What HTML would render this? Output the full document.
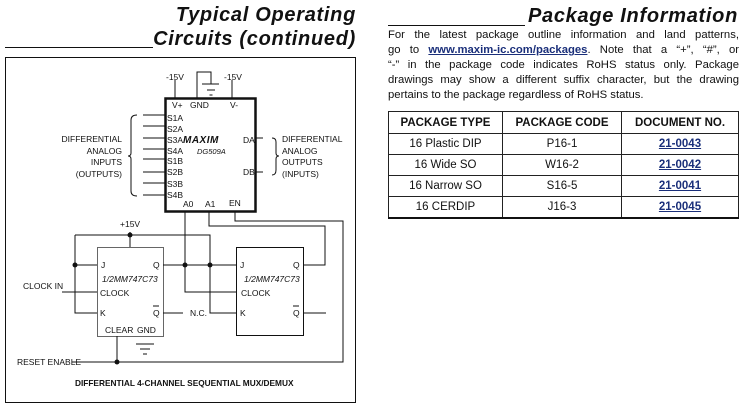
<!DOCTYPE html>
<html><head><meta charset="utf-8"><style>
html,body{margin:0;padding:0;background:#fff;}
body{width:750px;height:408px;position:relative;overflow:hidden;font-family:"Liberation Sans",sans-serif;}
.h{position:absolute;font-weight:bold;font-style:italic;font-size:20px;letter-spacing:0.7px;color:#111;white-space:nowrap;}
.p{position:absolute;left:388px;width:351px;font-size:11.3px;line-height:15px;color:#111;text-align:justify;text-align-last:justify;white-space:nowrap;}
.p a{color:#1a2f7a;font-weight:bold;text-decoration:underline;}
table{position:absolute;left:388px;top:111px;width:351px;border-collapse:collapse;font-size:11.5px;color:#111;}
td,th{border:1px solid #222;text-align:center;height:20px;padding:0;}
th{font-weight:bold;height:21px;}
tr:last-child td{border-bottom:2px solid #111;}
td a{color:#1a2f7a;font-weight:bold;text-decoration:underline;}
</style></head><body>
<div class="h" style="right:394px;top:4px;">Typical Operating</div>
<div class="h" style="right:394px;top:28px;">Circuits (continued)</div>
<div style="position:absolute;left:5px;top:47px;width:148px;height:1px;background:#111"></div>
<div class="h" style="right:12px;top:5px;">Package Information</div>
<div style="position:absolute;left:388px;top:25px;width:137px;height:1px;background:#111"></div>
<div class="p" style="top:28px;">For the latest package outline information and land patterns,</div>
<div class="p" style="top:43px;">go to <a>www.maxim-ic.com/packages</a>. Note that a “+”, “#”, or</div>
<div class="p" style="top:58px;">“-” in the package code indicates RoHS status only. Package</div>
<div class="p" style="top:73px;">drawings may show a different suffix character, but the drawing</div>
<div class="p" style="top:88px;text-align-last:left;">pertains to the package regardless of RoHS status.</div>
<table>
<tr><th style="width:113px">PACKAGE TYPE</th><th style="width:118px">PACKAGE CODE</th><th>DOCUMENT NO.</th></tr>
<tr><td>16 Plastic DIP</td><td>P16-1</td><td><a>21-0043</a></td></tr>
<tr><td>16 Wide SO</td><td>W16-2</td><td><a>21-0042</a></td></tr>
<tr><td>16 Narrow SO</td><td>S16-5</td><td><a>21-0041</a></td></tr>
<tr><td>16 CERDIP</td><td>J16-3</td><td><a>21-0045</a></td></tr>
</table>
<svg width="750" height="408" style="position:absolute;left:0;top:0" font-family="Liberation Sans, sans-serif" font-size="8.5" fill="#111">
<g stroke="#111" fill="none" stroke-width="1">
<rect x="5.5" y="57.5" width="350" height="345"/>
<rect x="165.5" y="98.5" width="90" height="113" stroke-width="2.5"/>
<path d="M175 80V98M232 80V98M197 98V72H211V84M202 84H219M207 90H215M209.5 95H212.5"/>
<path d="M143 115H165M143 126H165M143 138H165M143 149H165M143 159H165M143 172H165M143 183H165M143 195H165"/>
<path d="M137 115Q131 115 131 120V153Q131 156 128 156Q131 156 131 159V191Q131 196 137 196"/>
<path d="M255 138H263M255 172H263M272 138Q276 138 276 142V153Q276 156 279 156Q276 156 276 159V170Q276 175 272 175"/>
<rect x="97.5" y="247.5" width="66" height="89" stroke="#666"/>
<rect x="236.5" y="247.5" width="67" height="88"/>
<path d="M185 211V292H236M209 211V226H325V265H303M235 211V221H343V362H72"/>
<path d="M130 232V247M75 235H210V313H236M75 235V313H97M75 265H97M62 292H97M163 265H236M163 313H183M303 313H326M117 336V362"/>
<path d="M136 344H154M140 349H150M143 354H147"/>
</g>
<g fill="#111">
<circle cx="130" cy="235" r="2.5"/><circle cx="75" cy="265" r="2.5"/><circle cx="185" cy="265" r="2.5"/><circle cx="210" cy="265" r="2.5"/><circle cx="117" cy="362" r="2.5"/>
</g>
<text x="166" y="80">-15V</text><text x="224" y="80">-15V</text>
<text x="172" y="108">V+</text><text x="190" y="108">GND</text><text x="230" y="108">V-</text>
<text x="167" y="121">S1A</text><text x="167" y="132">S2A</text><text x="167" y="143">S3A</text><text x="167" y="154">S4A</text>
<text x="167" y="164">S1B</text><text x="167" y="175">S2B</text><text x="167" y="187">S3B</text><text x="167" y="198">S4B</text>
<text x="183" y="143" font-weight="bold" font-style="italic" font-size="10" letter-spacing="0.5">MAXIM</text>
<text x="197" y="154" font-style="italic" font-size="7.5">DG509A</text>
<text x="243" y="143">DA</text><text x="243" y="175">DB</text>
<text x="183" y="207">A0</text><text x="205" y="207">A1</text><text x="229" y="206">EN</text>
<g text-anchor="end"><text x="122" y="142">DIFFERENTIAL</text><text x="122" y="154">ANALOG</text><text x="122" y="165">INPUTS</text><text x="122" y="177">(OUTPUTS)</text></g>
<text x="282" y="142">DIFFERENTIAL</text><text x="282" y="154">ANALOG</text><text x="282" y="165">OUTPUTS</text><text x="282" y="177">(INPUTS)</text>
<text x="120" y="227">+15V</text>
<text x="101" y="268">J</text><text x="153" y="268">Q</text><text x="102" y="282" font-style="italic">1/2MM747C73</text>
<text x="100" y="296">CLOCK</text><text x="100" y="316">K</text><text x="153" y="316">Q</text><path d="M153 306H159" stroke="#111"/>
<text x="105" y="333">CLEAR</text><text x="137" y="333">GND</text>
<text x="240" y="268">J</text><text x="293" y="268">Q</text><text x="244" y="282" font-style="italic">1/2MM747C73</text>
<text x="241" y="296">CLOCK</text><text x="240" y="316">K</text><text x="293" y="316">Q</text><path d="M293 306H299" stroke="#111"/>
<text x="23" y="289">CLOCK IN</text><text x="190" y="316">N.C.</text>
<text x="17" y="365">RESET ENABLE</text>
<text x="75" y="386" font-weight="bold" font-size="8.3">DIFFERENTIAL 4-CHANNEL SEQUENTIAL MUX/DEMUX</text>
</svg>
</body></html>
